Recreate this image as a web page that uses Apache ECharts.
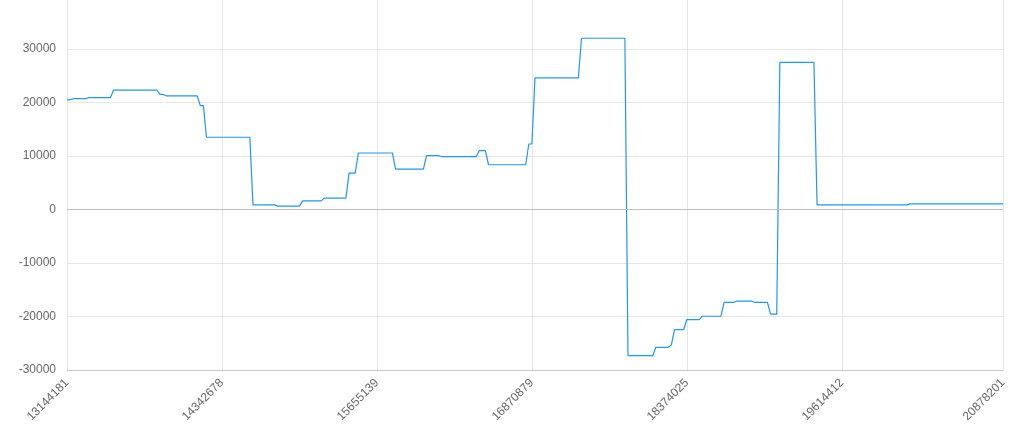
<!DOCTYPE html>
<html>
<head>
<meta charset="utf-8">
<script src="https://cdn.jsdelivr.net/npm/echarts@6/dist/echarts.min.js"></script>
<style>
html,body{margin:0;padding:0;background:#fff;}
#chart{width:1026px;height:438px;}
</style>
</head>
<body>
<div id="chart"></div>
<script>
// x tick labels and the positions (point index) where they appear
const tickIndex = [0, 50, 100, 150, 200, 250, 302];
const tickLabels = ['13144181', '14342678', '15655139', '16870879', '18374025', '19614412', '20878201'];

// y axis ticks
const yTicks = [-30000, -20000, -10000, 0, 10000, 20000, 30000];
const yTop = 39150;

// series values, one per point (303 points)
const values = [
  20500,20500,
  20700,20700,20700,20700,20700,
  20900,20900,20900,20900,20900,20900,20900,20900,
  22300,22300,22300,22300,22300,22300,22300,22300,22300,22300,22300,22300,22300,22300,22300,
  21500,21500,
  21250,21250,21250,21250,21250,21250,21250,21250,21250,21250,21250,
  19400,19400,
  13500,13500,13500,13500,13500,13500,13500,13500,13500,13500,13500,13500,13500,13500,13500,
  860,860,860,860,860,860,860,860,
  620,620,620,620,620,620,620,620,
  1610,1610,1610,1610,1610,1610,1610,
  2120,2120,2120,2120,2120,2120,2120,2120,
  6800,6800,6800,
  10560,10560,10560,10560,10560,10560,10560,10560,10560,10560,10560,10560,
  7560,7560,7560,7560,7560,7560,7560,7560,7560,7560,
  10050,10050,10050,10050,10050,
  9860,9860,9860,9860,9860,9860,9860,9860,9860,9860,9860,9860,
  10990,10990,10990,
  8360,8360,8360,8360,8360,8360,8360,8360,8360,8360,8360,8360,8360,
  12240,12240,
  24600,24600,24600,24600,24600,24600,24600,24600,24600,24600,24600,24600,24600,24600,24600,
  32000,32000,32000,32000,32000,32000,32000,32000,32000,32000,32000,32000,32000,32000,32000,
  -27300,-27300,-27300,-27300,-27300,-27300,-27300,-27300,-27300,
  -25760,-25760,-25760,-25760,-25760,
  -25300,
  -22440,-22440,-22440,-22440,
  -20570,-20570,-20570,-20570,-20570,
  -19950,-19950,-19950,-19950,-19950,-19950,-19950,
  -17380,-17380,-17380,-17380,
  -17140,-17140,-17140,-17140,-17140,-17140,
  -17380,-17380,-17380,-17380,-17380,
  -19570,-19570,-19570,
  27500,27500,27500,27500,27500,27500,27500,27500,27500,27500,27500,27500,
  860,860,860,860,860,860,860,860,860,860,860,860,860,860,860,860,860,860,860,860,860,860,860,860,860,860,860,860,860,860,
  1050,1050,1050,1050,1050,1050,1050,1050,1050,1050,1050,1050,1050,1050,1050,1050,1050,1050,1050,1050,1050,1050,1050,1050,1050,1050,1050,1050,1050,1050,1050
];

const categories = values.map((_, i) => {
  const k = tickIndex.indexOf(i);
  return k >= 0 ? tickLabels[k] : '';
});
const isTick = (i) => tickIndex.indexOf(i) >= 0;

const chart = echarts.init(document.getElementById('chart'), null, {renderer: 'canvas'});
chart.setOption({
  animation: false,
  grid: {left: 67, right: 23, top: 0, bottom: 68, containLabel: false},
  xAxis: {
    type: 'category',
    data: categories,
    boundaryGap: false,
    axisLine: {show: true, onZero: false, lineStyle: {color: '#c8c8c8', width: 1}},
    axisTick: {show: false},
    axisLabel: {
      interval: (i) => isTick(i),
      rotate: 45,
      margin: 11,
      color: '#666',
      fontSize: 12,
      fontFamily: 'Liberation Sans, Arial, sans-serif'
    },
    splitLine: {show: true, interval: (i) => isTick(i), lineStyle: {color: '#e6e6e6', width: 1}}
  },
  yAxis: {
    type: 'value',
    min: yTicks[0],
    max: yTop,
    interval: 10000,
    axisLine: {show: true, lineStyle: {color: '#e6e6e6'}},
    axisTick: {show: false},
    axisLabel: {
      showMaxLabel: false,
      margin: 11,
      color: '#666',
      fontSize: 12,
      fontFamily: 'Liberation Sans, Arial, sans-serif',
      formatter: (v) => (yTicks.indexOf(v) >= 0 ? String(v) : '')
    },
    splitLine: {show: true, showMaxLine: false, lineStyle: {color: '#e6e6e6', width: 1}}
  },
  series: [{
    type: 'line',
    data: values,
    symbol: 'none',
    lineStyle: {color: '#2196f3', width: 1.2},
    itemStyle: {color: '#2196f3'},
    markLine: {
      silent: true,
      symbol: 'none',
      label: {show: false},
      lineStyle: {color: '#bdbdbd', type: 'solid', width: 1},
      data: [{yAxis: 0}]
    },
    z: 3
  }]
});
</script>
</body>
</html>
